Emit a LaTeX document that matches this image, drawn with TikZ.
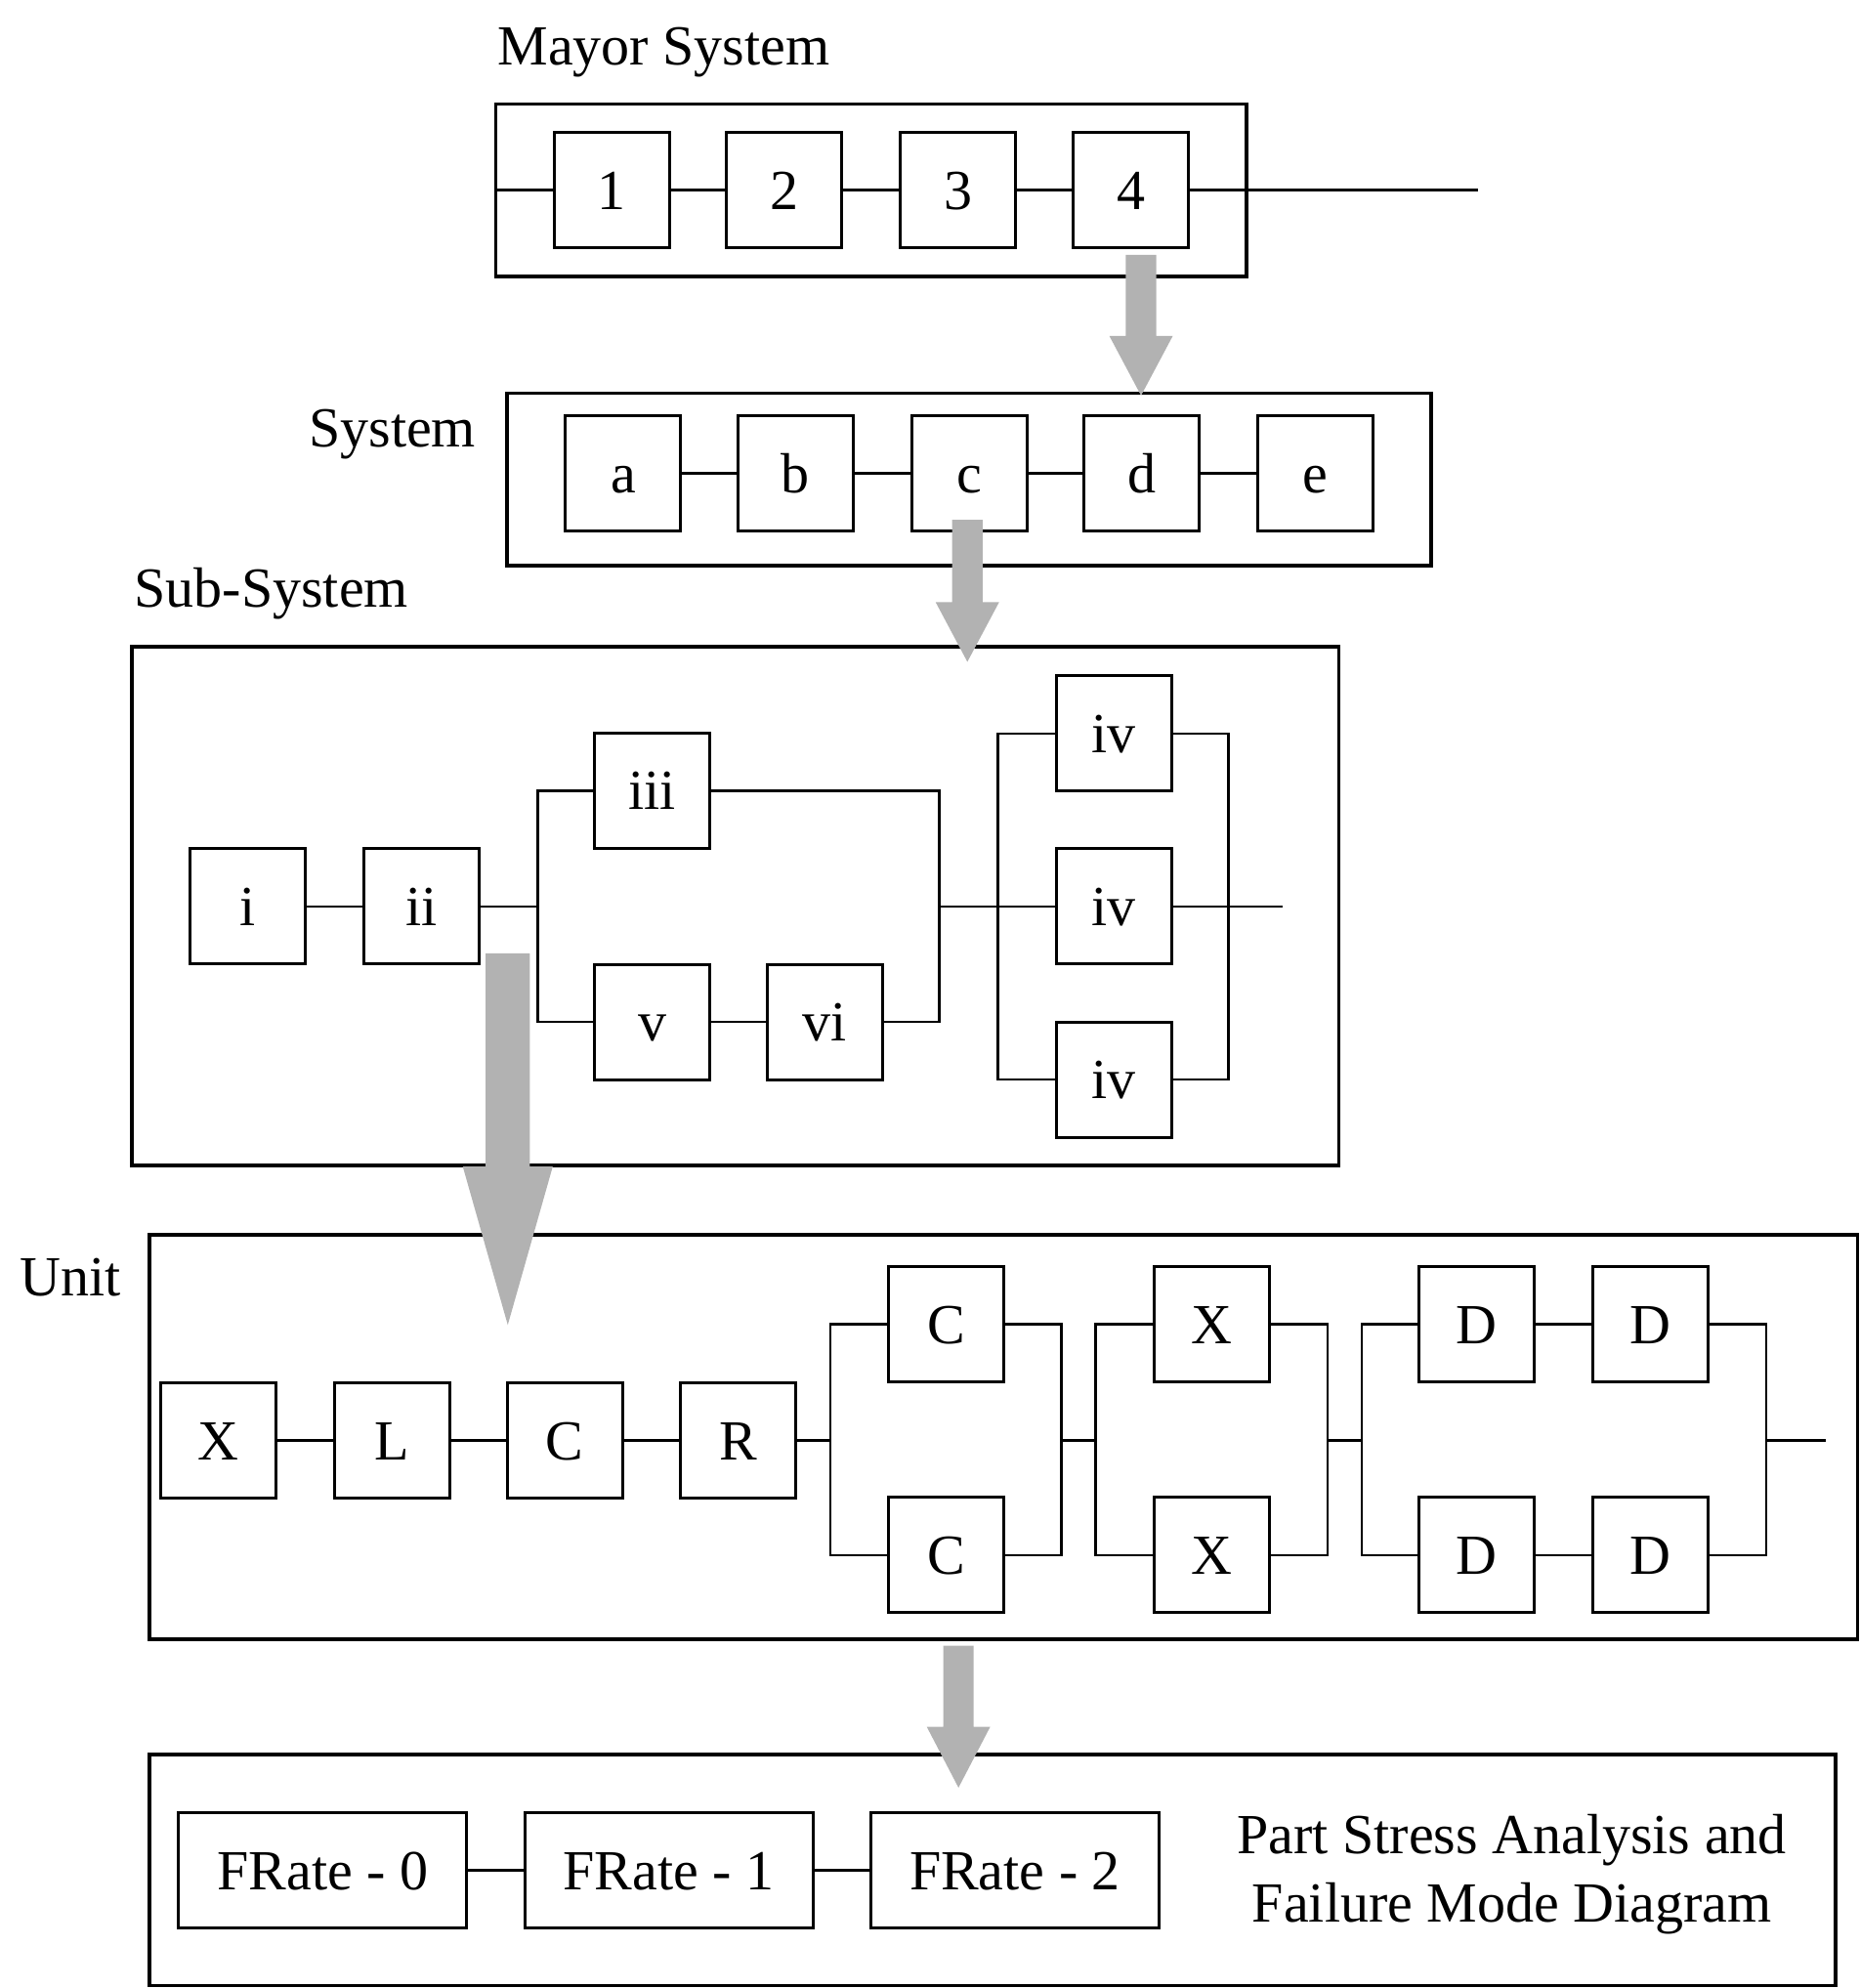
\documentclass[tikz,border=0pt]{standalone}
\usepackage{fontspec}
\setmainfont{Liberation Serif}
\begin{document}
\begin{tikzpicture}[x=0.64894pt,y=-0.64894pt,
  font=\fontsize{29}{35}\selectfont,
  blk/.style={draw,line width=1.5pt,minimum width=59pt,minimum height=59pt,
    inner sep=0pt,text height=19.7pt,text depth=0pt},
  wide/.style={blk,minimum width=147.5pt},
  frame/.style={draw,line width=1.8pt},
  wire/.style={line width=1.3pt},
  flow/.style={fill=black!30,draw=none},
  lbl/.style={inner sep=0pt,text height=19.7pt,text depth=0pt}
]
\useasboundingbox (0,0) rectangle (1467,1568);

% ---------------- Mayor System ----------------
\node[lbl] (tMayor) at (523.5,36) {Mayor System};
\draw[frame] (391,82) rectangle (983,218);
\node[blk] (m1) at (482.5,150) {1};
\node[blk] (m2) at (618.5,150) {2};
\node[blk] (m3) at (755.5,150) {3};
\node[blk] (m4) at (892,150) {4};
\coordinate (mIn) at (391,150);
\coordinate (mOut) at (1166,150);
\draw[wire] (mIn) -- (m1) -- (m2) -- (m3) -- (m4) -- (mOut);

% ---------------- System ----------------
\node[lbl] (tSys) at (309.5,337) {System};
\draw[frame] (400,310) rectangle (1129,446);
\node[blk] (sa) at (491.5,373.5) {a};
\node[blk] (sb) at (627.5,373.5) {b};
\node[blk] (sc) at (764.5,373.5) {c};
\node[blk] (sd) at (900.5,373.5) {d};
\node[blk] (se) at (1037.5,373.5) {e};
\draw[wire] (sa) -- (sb) -- (sc) -- (sd) -- (se);

% ---------------- Sub-System ----------------
\node[lbl] (tSub) at (214,464) {Sub-System};
\draw[frame] (104,510) rectangle (1056,919);
\node[blk] (pi)   at (195.5,715) {i};
\node[blk] (pii)  at (332.5,715) {ii};
\node[blk] (piii) at (514.5,623.5) {iii};
\node[blk] (pv)   at (514.5,806) {v};
\node[blk] (pvi)  at (650.5,806) {vi};
\node[blk] (piva) at (878.5,578.5) {iv};
\node[blk] (pivb) at (878.5,715) {iv};
\node[blk] (pivc) at (878.5,851.5) {iv};
\coordinate (jA) at (424,715);
\coordinate (jB) at (741,715);
\coordinate (jC) at (787,715);
\coordinate (jD) at (969,715);
\coordinate (jOut) at (1012,715);
\draw[wire] (pi) -- (pii) -- (jA);
\draw[wire] (jA) |- (piii.west);
\draw[wire] (jA) |- (pv.west);
\draw[wire] (pv) -- (pvi);
\draw[wire] (piii.east) -| (jB);
\draw[wire] (pvi.east) -| (jB);
\draw[wire] (jB) -- (pivb.west);
\draw[wire] (jC) |- (piva.west);
\draw[wire] (jC) |- (pivc.west);
\draw[wire] (piva.east) -| (jD);
\draw[wire] (pivc.east) -| (jD);
\draw[wire] (pivb.east) -- (jOut);

% ---------------- Unit ----------------
\node[lbl] (tUnit) at (55.5,1007) {Unit};
\draw[frame] (118,974) rectangle (1465,1293);
\node[blk] (uX) at (172.5,1136) {X};
\node[blk] (uL) at (309.5,1136) {L};
\node[blk] (uC) at (445.5,1136) {C};
\node[blk] (uR) at (582.5,1136) {R};
\node[blk] (uc1) at (746.5,1044.5) {C};
\node[blk] (uc2) at (746.5,1226.5) {C};
\node[blk] (ux1) at (955.5,1044.5) {X};
\node[blk] (ux2) at (955.5,1226.5) {X};
\node[blk] (ud1) at (1164.5,1044.5) {D};
\node[blk] (ud2) at (1301.5,1044.5) {D};
\node[blk] (ud3) at (1164.5,1226.5) {D};
\node[blk] (ud4) at (1301.5,1226.5) {D};
\coordinate (k1) at (655,1136);
\coordinate (k2) at (837,1136);
\coordinate (k3) at (864,1136);
\coordinate (k4) at (1047,1136);
\coordinate (k5) at (1074,1136);
\coordinate (k6) at (1393,1136);
\coordinate (kOut) at (1440,1136);
\draw[wire] (uX) -- (uL) -- (uC) -- (uR) -- (k1);
\draw[wire] (k1) |- (uc1.west);
\draw[wire] (k1) |- (uc2.west);
\draw[wire] (uc1.east) -| (k2);
\draw[wire] (uc2.east) -| (k2);
\draw[wire] (k2) -- (k3);
\draw[wire] (k3) |- (ux1.west);
\draw[wire] (k3) |- (ux2.west);
\draw[wire] (ux1.east) -| (k4);
\draw[wire] (ux2.east) -| (k4);
\draw[wire] (k4) -- (k5);
\draw[wire] (k5) |- (ud1.west);
\draw[wire] (k5) |- (ud3.west);
\draw[wire] (ud1) -- (ud2);
\draw[wire] (ud3) -- (ud4);
\draw[wire] (ud2.east) -| (k6);
\draw[wire] (ud4.east) -| (k6);
\draw[wire] (k6) -- (kOut);

% ---------------- Part level ----------------
\draw[frame] (118,1384) rectangle (1448,1566);
\node[wide] (f0) at (254.5,1475) {FRate - 0};
\node[wide] (f1) at (527.5,1475) {FRate - 1};
\node[wide] (f2) at (800.5,1475) {FRate - 2};
\draw[wire] (f0) -- (f1) -- (f2);
\node[lbl] (tPart1) at (1192.5,1447) {Part Stress Analysis and};
\node[lbl] (tPart2) at (1192.5,1501) {Failure Mode Diagram};

% ---------------- Gray refinement arrows ----------------
\fill[flow] (888,201) -- (912,201) -- (912,265) -- (925,265) -- (900,312)
  -- (875,265) -- (888,265) -- cycle;
\fill[flow] (751,410) -- (775,410) -- (775,475) -- (788,475) -- (763,522)
  -- (738,475) -- (751,475) -- cycle;
\fill[flow] (383,752) -- (418,752) -- (418,920) -- (436,920) -- (400.5,1045)
  -- (365,920) -- (383,920) -- cycle;
\fill[flow] (744,1298) -- (768,1298) -- (768,1362) -- (781,1362) -- (756,1410)
  -- (731,1362) -- (744,1362) -- cycle;
\end{tikzpicture}
\end{document}
